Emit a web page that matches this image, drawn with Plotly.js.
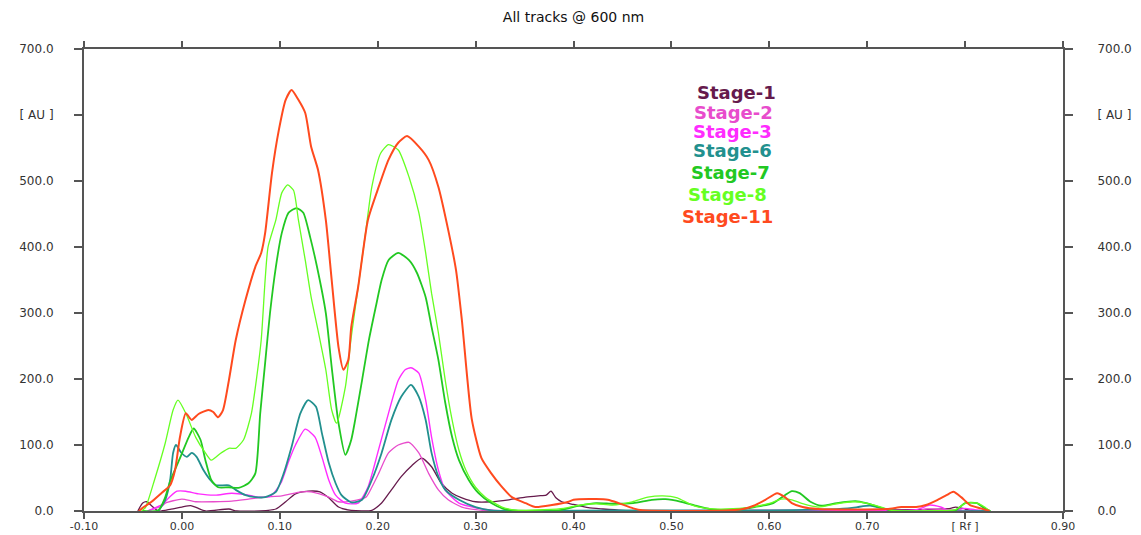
<!DOCTYPE html>
<html>
<head>
<meta charset="utf-8">
<script src="https://cdn.plot.ly/plotly-3.0.1.min.js"></script>
<style>html,body{margin:0;padding:0;background:#fff;}#chart{width:1141px;height:535px;}</style>
</head>
<body>
<div id="chart"></div>
<script>
// ---- data (Rf vs AU) ----
const seriesNames = ['Stage-1','Stage-2','Stage-3','Stage-6','Stage-7','Stage-8','Stage-11'];

const s1x = [-0.045,-0.040,-0.036,-0.031,-0.024,-0.011,0.0,0.009,0.015,0.024,0.048,0.056,0.08,0.096,0.106,0.116,0.129,0.141,0.150,0.160,0.173,0.194,0.204,0.214,0.224,0.235,0.245,0.255,0.265,0.276,0.286,0.300,0.316,0.334,0.351,0.364,0.372,0.377,0.382,0.388,0.40,0.415,0.43,0.45,0.5,0.6,0.7,0.785,0.79,0.80,0.81,0.825];
const s1y = [0,12,14,8,0,3,6,8,5,0,3,0,0,3,14,26,30,29,20,6,1,1,12,32,52,69,80,67,42,27,20,14,14,17,21,23,24,30,20,14,10,5,3,1,0,1,1,4,6,3,0,0];

const s2x = [-0.035,-0.020,-0.017,0.0,0.014,0.051,0.068,0.085,0.102,0.122,0.132,0.150,0.160,0.173,0.188,0.194,0.201,0.211,0.221,0.232,0.242,0.252,0.262,0.272,0.286,0.30,0.32,0.5,0.75,0.76,0.78,0.80,0.825];
const s2y = [0,8,12,18,14,15,18,21,23,29,29,21,14,15,21,36,57,88,100,104,88,57,32,17,6,2,0,0,0,3,2,0,0];

const s3x = [-0.035,-0.020,-0.012,-0.005,0.004,0.017,0.034,0.051,0.068,0.078,0.091,0.101,0.109,0.116,0.126,0.136,0.143,0.150,0.157,0.167,0.180,0.190,0.200,0.211,0.221,0.228,0.234,0.242,0.249,0.255,0.262,0.269,0.283,0.300,0.32,0.6,0.75,0.764,0.775,0.785,0.80,0.81,0.825];
const s3y = [0,10,22,30,30,26,24,27,24,21,23,42,75,100,124,112,82,47,24,12,12,36,88,148,198,214,217,209,168,112,62,32,12,5,1,1,2,9,6,0,4,2,0];

const s6x = [-0.024,-0.017,-0.012,-0.009,-0.006,-0.001,0.005,0.010,0.015,0.022,0.029,0.035,0.048,0.055,0.065,0.075,0.085,0.096,0.104,0.112,0.121,0.129,0.137,0.143,0.150,0.157,0.163,0.173,0.184,0.194,0.204,0.214,0.224,0.234,0.242,0.249,0.255,0.262,0.269,0.283,0.300,0.316,0.35,0.45,0.6,0.65,0.68,0.69,0.703,0.715,0.73,0.825];
const s6y = [0,17,47,88,100,89,82,88,82,62,47,39,39,32,24,21,21,29,57,97,148,168,158,118,73,42,24,13,17,47,88,138,173,191,173,138,88,52,32,17,6,1,0,1,1,2,4,6,8,4,0,0];

const s7x = [-0.041,-0.024,-0.017,-0.012,-0.002,0.007,0.012,0.019,0.024,0.030,0.037,0.048,0.058,0.068,0.075,0.080,0.085,0.090,0.096,0.102,0.109,0.117,0.124,0.131,0.138,0.147,0.153,0.160,0.167,0.173,0.177,0.184,0.191,0.198,0.204,0.211,0.221,0.232,0.240,0.249,0.255,0.262,0.269,0.276,0.283,0.293,0.303,0.316,0.331,0.36,0.385,0.406,0.423,0.441,0.461,0.48,0.494,0.51,0.525,0.54,0.562,0.585,0.604,0.616,0.623,0.631,0.642,0.653,0.669,0.688,0.699,0.712,0.724,0.79,0.80,0.812,0.82,0.826];
const s7y = [0,1,21,45,80,112,125,108,77,47,36,36,35,42,57,148,224,300,370,421,452,459,452,415,370,300,218,133,85,108,138,198,259,309,350,380,391,380,361,324,279,229,164,112,77,47,27,12,2,0,1,8,12,11,12,17,18,14,8,3,1,6,12,24,30,27,14,8,12,15,12,6,1,1,12,12,4,0];

const s8x = [-0.041,-0.037,-0.028,-0.017,-0.009,-0.004,0.004,0.014,0.024,0.030,0.040,0.048,0.055,0.063,0.071,0.076,0.081,0.085,0.088,0.096,0.102,0.108,0.114,0.119,0.126,0.132,0.139,0.147,0.153,0.158,0.167,0.173,0.180,0.188,0.194,0.203,0.211,0.221,0.232,0.242,0.249,0.255,0.262,0.269,0.276,0.283,0.290,0.300,0.310,0.327,0.344,0.37,0.39,0.406,0.423,0.44,0.46,0.476,0.491,0.506,0.521,0.536,0.556,0.582,0.601,0.612,0.623,0.634,0.650,0.669,0.685,0.699,0.714,0.725,0.78,0.79,0.801,0.812,0.82,0.825];
const s8y = [0,6,47,103,153,168,148,112,88,77,88,95,95,108,148,198,259,350,400,441,482,494,486,441,380,324,274,214,153,133,188,264,339,426,491,542,555,547,506,452,391,330,270,198,138,92,62,36,21,6,1,2,4,9,11,9,14,21,23,20,9,4,3,6,12,18,17,11,6,11,14,12,6,1,1,2,12,12,6,0];

const s11x = [-0.044,-0.039,-0.031,-0.021,-0.012,-0.007,-0.002,0.004,0.010,0.017,0.027,0.032,0.037,0.042,0.048,0.055,0.065,0.075,0.081,0.085,0.092,0.099,0.106,0.112,0.119,0.126,0.132,0.139,0.147,0.153,0.160,0.165,0.170,0.173,0.180,0.190,0.201,0.211,0.221,0.230,0.242,0.252,0.262,0.272,0.280,0.286,0.296,0.306,0.316,0.326,0.337,0.351,0.361,0.378,0.395,0.40,0.423,0.435,0.446,0.461,0.47,0.50,0.56,0.573,0.584,0.596,0.608,0.616,0.623,0.634,0.65,0.72,0.735,0.75,0.76,0.772,0.781,0.788,0.796,0.805,0.816,0.825];
const s11y = [0,6,14,27,39,62,112,148,138,147,153,150,142,153,198,259,320,370,391,421,512,577,623,638,623,603,552,517,441,350,248,214,229,279,339,441,491,532,558,568,552,532,491,426,365,289,140,80,57,38,21,12,6,9,14,17,18,17,12,4,1,0,1,3,8,17,27,21,12,6,3,3,6,6,9,17,24,29,21,9,4,0];

const seriesX = [s1x,s2x,s3x,s6x,s7x,s8x,s11x];
const seriesY = [s1y,s2y,s3y,s6y,s7y,s8y,s11y];
const seriesColors = ['#661a4c','#e84ccc','#ff2cff','#22908e','#22c822','#66ff22','#ff4a1e'];
const seriesWidths = [1.3,1.3,1.4,1.8,1.8,1.3,2];

const xTickVals = [-0.1,0,0.1,0.2,0.3,0.4,0.5,0.6,0.7,0.8,0.9];
const xTickText = ['-0.10','0.00','0.10','0.20','0.30','0.40','0.50','0.60','0.70','[ Rf ]','0.90'];
const yTickVals = [0,100,200,300,400,500,600,700];
const yTickText = ['0.0','100.0','200.0','300.0','400.0','500.0','[ AU ]','700.0'];

// ---- traces ----
const traces = seriesNames.map((n,i)=>({
  type:'scatter', mode:'lines', name:n,
  x:seriesX[i], y:seriesY[i],
  line:{color:seriesColors[i], width:seriesWidths[i], shape:'spline', smoothing:0.6},
  hoverinfo:'x+y+name'
}));
traces.push({type:'scatter', mode:'lines', x:[], y:[], yaxis:'y2', showlegend:false, hoverinfo:'skip'});

const tickFont = {family:'DejaVu Sans, Arial, sans-serif', size:12, color:'#333'};
const axisCommon = {
  ticks:'outside', ticklen:8, tickwidth:1.5, tickcolor:'#555',
  showline:true, linecolor:'#555', linewidth:2,
  showgrid:false, zeroline:false, tickfont:tickFont, fixedrange:true
};

// legend as coloured text
const legendY = [92,112,131,150,172,195,216];
const legendX = [736,733,732,732,730,727,727];
const annotations = seriesNames.map((n,i)=>({
  xref:'paper', yref:'paper',
  x:(legendX[i]-84)/979, y:(511-legendY[i])/462,
  xanchor:'center', yanchor:'middle', showarrow:false,
  borderpad:0,
  text:n,
  font:{family:'DejaVu Sans, Arial, sans-serif', size:18, weight:'bold', color:seriesColors[i]}
}));

const layout = {
  width:1141, height:535,
  margin:{l:84, r:78, t:49, b:24, pad:0},
  paper_bgcolor:'#fff', plot_bgcolor:'#fff',
  showlegend:false,
  title:{text:'All tracks @ 600 nm', x:0.5, xref:'paper', xanchor:'center', y:1-17/535, yref:'container', yanchor:'middle',
         font:{family:'DejaVu Sans, Arial, sans-serif', size:14, color:'#111'}},
  xaxis:Object.assign({}, axisCommon, {range:[-0.1,0.9], tickmode:'array', tickvals:xTickVals, ticktext:xTickText, mirror:'ticks', ticklen:6, tickfont:{family:'DejaVu Sans, Arial, sans-serif', size:11, color:'#333'}, ticklabelstandoff:-2}),
  yaxis:Object.assign({}, axisCommon, {range:[0,700], tickmode:'array', tickvals:yTickVals, ticktext:yTickText, ticklabelstandoff:18}),
  yaxis2:Object.assign({}, axisCommon, {range:[0,700], tickmode:'array', tickvals:yTickVals, ticktext:yTickText, overlaying:'y', side:'right', ticklabelstandoff:22}),
  annotations:annotations
};

Plotly.newPlot('chart', traces, layout, {displayModeBar:false, responsive:false});
</script>
</body>
</html>
